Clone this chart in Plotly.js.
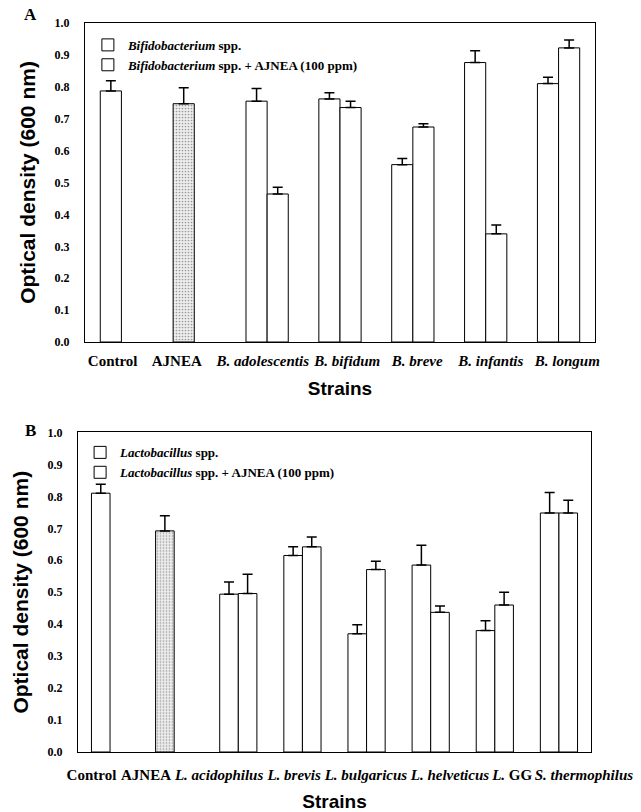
<!DOCTYPE html>
<html>
<head>
<meta charset="utf-8">
<script src="https://cdn.plot.ly/plotly-3.0.1.min.js"></script>
<style>html,body{margin:0;padding:0;background:#fff;}#chart{width:641px;height:812px;}</style>
</head>
<body>
<div id="chart"></div>
<script>
// Panel A data
const categoriesA = ["Control", "AJNEA", "B. adolescentis", "B. bifidum", "B. breve", "B. infantis", "B. longum"];
const tickTextA = ["Control", "AJNEA", "<i>B. adolescentis</i>", "<i>B. bifidum</i>", "<i>B. breve</i>", "<i>B. infantis</i>", "<i>B. longum</i>"];
const bifidoA = [0.787, 0.747, 0.755, 0.762, 0.556, 0.876, 0.810];
const bifidoErrA = [0.032, 0.050, 0.040, 0.019, 0.019, 0.037, 0.020];
const bifidoAjneaA = [null, null, 0.464, 0.735, 0.674, 0.339, 0.922];
const bifidoAjneaErrA = [null, null, 0.021, 0.020, 0.010, 0.028, 0.025];

// Panel B data
const categoriesB = ["Control", "AJNEA", "L. acidophilus", "L. brevis", "L. bulgaricus", "L. helveticus", "L. GG", "S. thermophilus"];
const tickTextB = ["Control", "AJNEA", "<i>L. acidophilus</i>", "<i>L. brevis</i>", "<i>L. bulgaricus</i>", "<i>L. helveticus</i>", "<i>L.</i> GG", "<i>S. thermophilus</i>"];
const lactoB = [0.810, 0.692, 0.494, 0.615, 0.370, 0.585, 0.380, 0.748];
const lactoErrB = [0.028, 0.047, 0.038, 0.027, 0.028, 0.062, 0.031, 0.064];
const lactoAjneaB = [null, null, 0.496, 0.642, 0.571, 0.437, 0.460, 0.748];
const lactoAjneaErrB = [null, null, 0.060, 0.031, 0.026, 0.020, 0.040, 0.040];

// Layout: tick label placement (category-index units), as typeset in the original figure
const labelSlotsA = [-0.12, 0.76, 1.94, 3.10, 4.06, 5.07, 6.12];
const labelSlotsB = [-0.29, 0.56, 1.70, 2.87, 3.99, 5.30, 6.27, 7.39];

const serif = "Liberation Serif, Times New Roman, serif";
const sans = "Liberation Sans, Arial, sans-serif";

function colorsFor(cats) { return cats.map(c => c === "AJNEA" ? "#eeeeee" : "#ffffff"); }
function shapesFor(cats) { return cats.map(c => c === "AJNEA" ? "." : ""); }
function zeros(a) { return a.map(v => v === null ? null : 0); }

function barTrace(x, y, err, name, xa, ya, legend, cats, patterned) {
  const marker = {
    color: patterned ? colorsFor(cats) : "#ffffff",
    line: {color: "#000", width: 1}
  };
  if (patterned) {
    marker.pattern = {shape: shapesFor(cats), fgcolor: "#a8a8a8", size: 3, solidity: 0.25, fillmode: "overlay"};
  }
  return {
    type: "bar", x: x, y: y, name: name, xaxis: xa, yaxis: ya, legend: legend,
    marker: marker,
    error_y: {type: "data", array: err, arrayminus: zeros(err), symmetric: false, color: "#000", thickness: 1.5, width: 5},
    hoverinfo: "x+y"
  };
}

const data = [
  barTrace(categoriesA, bifidoA, bifidoErrA, "<i>Bifidobacterium</i> spp.", "x", "y", "legend", categoriesA, true),
  barTrace(categoriesA, bifidoAjneaA, bifidoAjneaErrA, "<i>Bifidobacterium</i> spp. + AJNEA (100 ppm)", "x", "y", "legend", categoriesA, false),
  barTrace(categoriesB, lactoB, lactoErrB, "<i>Lactobacillus</i> spp.", "x2", "y2", "legend2", categoriesB, true),
  barTrace(categoriesB, lactoAjneaB, lactoAjneaErrB, "<i>Lactobacillus</i> spp. + AJNEA (100 ppm)", "x2", "y2", "legend2", categoriesB, false)
];

const yTitleFont = {family: sans, size: 21, weight: "bold", color: "#000"};
const xTitleFont = {family: sans, size: 19, weight: "bold", color: "#000"};
const tickFont = {family: serif, size: 12, weight: "bold", color: "#000"};

function yAxis(domain, anchor) {
  return {
    domain: domain, anchor: anchor, range: [0, 1.0], dtick: 0.1, tick0: 0, tickformat: ".1f",
    showgrid: false, zeroline: false, showline: true, mirror: true, linecolor: "#000", linewidth: 1,
    ticks: "", ticklabelstandoff: 12, tickfont: tickFont, automargin: false,
    title: {text: "Optical density (600 nm)", font: yTitleFont, standoff: 13}
  };
}
function xAxis(domain, anchor, cats, slots, ticktext, fsize, lstand, tstand) {
  return {
    domain: domain, anchor: anchor, type: "category", categoryarray: cats, categoryorder: "array",
    range: [-0.5, cats.length - 0.5],
    tickmode: "array", tickvals: slots, ticktext: ticktext, tickangle: 0,
    showgrid: false, zeroline: false, showline: true, mirror: true, linecolor: "#000", linewidth: 1,
    ticks: "", ticklabelstandoff: lstand, automargin: false,
    tickfont: {family: serif, size: fsize, weight: "bold", color: "#000"},
    title: {text: "Strains", font: xTitleFont, standoff: tstand}
  };
}

const legendFont = {family: serif, size: 13, weight: "bold", color: "#000"};

const layout = {
  width: 641, height: 812,
  margin: {l: 77, r: 46, t: 23, b: 60},
  paper_bgcolor: "#fff", plot_bgcolor: "#fff",
  barmode: "group",
  bargroupgap: 0,
  bargap: 0.42,
  xaxis: xAxis([0.0154, 1.0], "y", categoriesA, labelSlotsA, tickTextA, 15, 5, 13),
  yaxis: yAxis([0.5624, 1.0], "x"),
  xaxis2: xAxis([0.0019, 0.9923], "y2", categoriesB, labelSlotsB, tickTextB, 15, 9, 17),
  yaxis2: yAxis([0.0, 0.4383], "x2"),
  legend: {x: 0.021, y: 0.9905, xanchor: "left", yanchor: "top", bgcolor: "rgba(0,0,0,0)",
           font: legendFont, itemwidth: 30, tracegroupgap: 0},
  legend2: {x: 0.006, y: 0.4315, xanchor: "left", yanchor: "top", bgcolor: "rgba(0,0,0,0)",
           font: legendFont, itemwidth: 30, tracegroupgap: 0},
  annotations: [
    {text: "A", xref: "paper", yref: "paper", x: -0.09, y: 1.012, xanchor: "center", yanchor: "middle", showarrow: false,
     font: {family: serif, size: 17, weight: "bold", color: "#000"}},
    {text: "B", xref: "paper", yref: "paper", x: -0.09, y: 0.4415, xanchor: "center", yanchor: "middle", showarrow: false,
     font: {family: serif, size: 17, weight: "bold", color: "#000"}}
  ],
  showlegend: true
};

Plotly.newPlot("chart", data, layout, {staticPlot: true, displayModeBar: false});
</script>
</body>
</html>
